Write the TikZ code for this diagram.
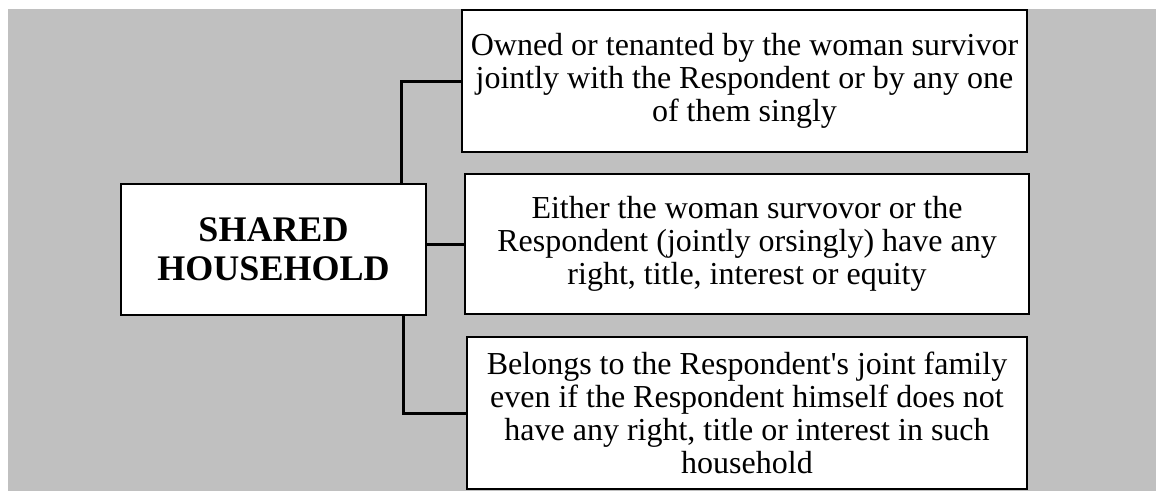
\documentclass[tikz,border=0pt]{standalone}
\usepackage{fontspec}
\setmainfont{Liberation Serif}
\definecolor{panelgray}{RGB}{192,192,192}
\begin{document}
\begin{tikzpicture}[x=1pt,y=-1pt,
  box/.style={draw=black, fill=white, line width=2pt, inner sep=0pt, align=center,
              font=\fontsize{32}{33}\selectfont},
  hubbox/.style={box, font=\fontsize{36}{39}\selectfont\bfseries},
  link/.style={draw=black, line width=3pt}]
% page and panel
\fill[white] (0,0) rectangle (1156,491);
\useasboundingbox (0,0) rectangle (1156,491);
\fill[panelgray] (8,9) rectangle (1156,491);

% central concept
\node[hubbox, minimum width=305pt, minimum height=131pt] (hub) at (273.5,249.5)
  {SHARED\\HOUSEHOLD};

% the three conditions
\node[box, minimum width=565pt, minimum height=142pt] (b1) at (744.5,81)
  {Owned or tenanted by the woman survivor\\jointly with the Respondent or by any one\\of them singly};
\node[box, minimum width=564pt, minimum height=140pt] (b2) at (747,244)
  {Either the woman survovor or the\\Respondent (jointly orsingly) have any\\right, title, interest or equity};
\node[box, minimum width=560pt, minimum height=152pt] (b3) at (747,413)
  {Belongs to the Respondent\textquotesingle s joint family\\even if the Respondent himself does not\\have any right, title or interest in such\\household};

% connectors
\draw[link] ([xshift=-26pt]hub.north east) |- (b1.west);
\draw[link] (b2.west -| hub.east) -- (b2.west);
\draw[link] ([xshift=-24pt]hub.south east) |- (b3.west);
\end{tikzpicture}
\end{document}
